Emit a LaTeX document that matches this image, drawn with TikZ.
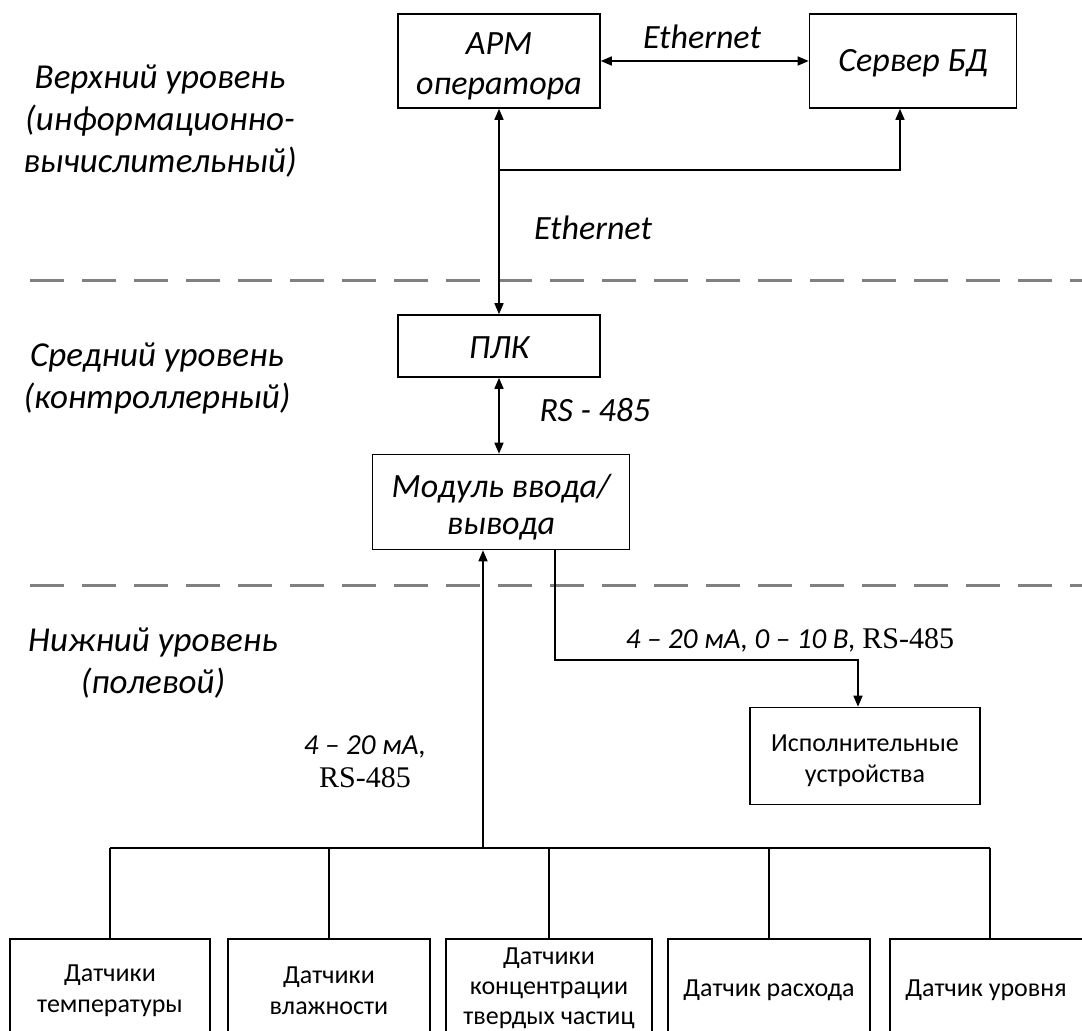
\documentclass[tikz,border=0pt]{standalone}
\usepackage{fontspec}
\setmainfont{Carlito}
\newfontfamily\tnrfont{Liberation Serif}
\usetikzlibrary{arrows.meta}
\begin{document}
\begin{tikzpicture}[x=1pt,y=-1pt,
  line width=1.6pt,
  tip/.style={-{Triangle[length=11pt,width=9pt]}},
  dtip/.style={{Triangle[length=11pt,width=9pt]}-{Triangle[length=11pt,width=9pt]}},
  frame/.style={draw, line width=1.6pt, inner sep=0pt},
  btext/.style={inner sep=0pt, align=center, font=\fontsize{34}{40}\selectfont\itshape},
  stext/.style={inner sep=0pt, align=center, font=\fontsize{26}{31}\selectfont},
  lbl/.style={inner sep=0pt, align=center, font=\fontsize{34}{38}\selectfont\itshape},
  sig/.style={inner sep=0pt, align=center, font=\fontsize{29}{33}\selectfont\itshape},
  lvl/.style={inner sep=0pt, align=center, font=\fontsize{35}{42}\selectfont\itshape},
  sep/.style={draw=black!50, line width=3pt, dash pattern=on 34pt off 18pt}]
\newcommand\rsfont{\tnrfont\upshape\fontsize{30}{33}\selectfont}
\useasboundingbox (0,0) rectangle (1082,1031);
\clip (0,0) rectangle (1082,1031);

% level captions
\node[lvl] (top) at (160,121) {Верхний уровень\\(информационно-\\вычислительный)};
\node[lvl] (mid) at (157,378) {Средний уровень\\(контроллерный)};
\node[lvl] (low) at (153,663) {Нижний уровень\\(полевой)};

% level separators
\draw[sep] (30,280) -- (1082,280);
\draw[sep] (30,585) -- (1082,585);

% upper level
\node[frame, minimum width=202pt, minimum height=94pt] (arm) at (499,61) {};
\node[btext] (armt) at (499,66) {АРМ\\оператора};
\node[frame, minimum width=207pt, minimum height=94pt] (srv) at (913,61) {};
\node[btext] (srvt) at (913,63) {Сервер БД};
\draw[dtip] (arm) -- (srv);
\node[lbl] (eth1) at (702,37) {Ethernet};

% middle level
\node[frame, minimum width=202pt, minimum height=62pt] (plc) at (499,346) {};
\node[btext] (plct) at (499,348) {ПЛК};
\node[frame, minimum width=257pt, minimum height=95pt] (io) at (501,502) {};
\node[btext, font=\fontsize{34}{37}\selectfont\itshape] (iot) at (501,507) {Модуль ввода/\\вывода};
\draw[dtip] (arm.south) -- (arm.south |- plc.north);
\coordinate (br) at (500,170);
\draw[tip] (br) -| ([xshift=-13pt]srv.south);
\node[lbl] (eth2) at (593,228) {Ethernet};
\draw[dtip] (plc.south) -- (plc.south |- io.north);
\node[lbl] (rs) at (595,410) {RS - 485};

% lower level
\node[frame, minimum width=230pt, minimum height=97pt] (act) at (865,756) {};
\node[stext] (actt) at (865,761) {Исполнительные\\устройства};
\coordinate (out) at (555,550);
\draw[tip] (out) |- (858,660) -- (858,660 |- act.north);
\node[sig] (outl) at (790,640) {4 – 20 мА, 0 – 10 В, {\rsfont RS-485}};

% sensors
\node[frame, minimum width=200pt, minimum height=110pt, anchor=north] (s1) at (110,938) {};
\node[frame, minimum width=202pt, minimum height=110pt, anchor=north] (s2) at (329,938) {};
\node[frame, minimum width=206pt, minimum height=110pt, anchor=north] (s3) at (549,938) {};
\node[frame, minimum width=202pt, minimum height=110pt, anchor=north] (s4) at (769,938) {};
\node[frame, minimum width=200pt, minimum height=110pt, anchor=north] (s5) at (990,938) {};
\node[stext] (t1) at (110,991) {Датчики\\температуры};
\node[stext] (t2) at (329,991) {Датчики\\влажности};
\node[stext, font=\fontsize{26}{30}\selectfont] (t3) at (549,988) {Датчики\\концентрации\\твердых частиц};
\node[stext] (t4) at (769,990) {Датчик расхода};
\node[stext] (t5) at (986,990) {Датчик уровня};

\coordinate (bus) at (483,848);
\draw[tip] (bus) -- (bus |- io.south);
\draw (s1.north |- bus) -- (s5.north |- bus);
\foreach \s in {s1,s2,s3,s4,s5} \draw (\s.north |- bus) -- (\s.north);
\node[sig] (inl) at (365,762) {4 – 20 мА,\\{\rsfont RS-485}};
\end{tikzpicture}
\end{document}
